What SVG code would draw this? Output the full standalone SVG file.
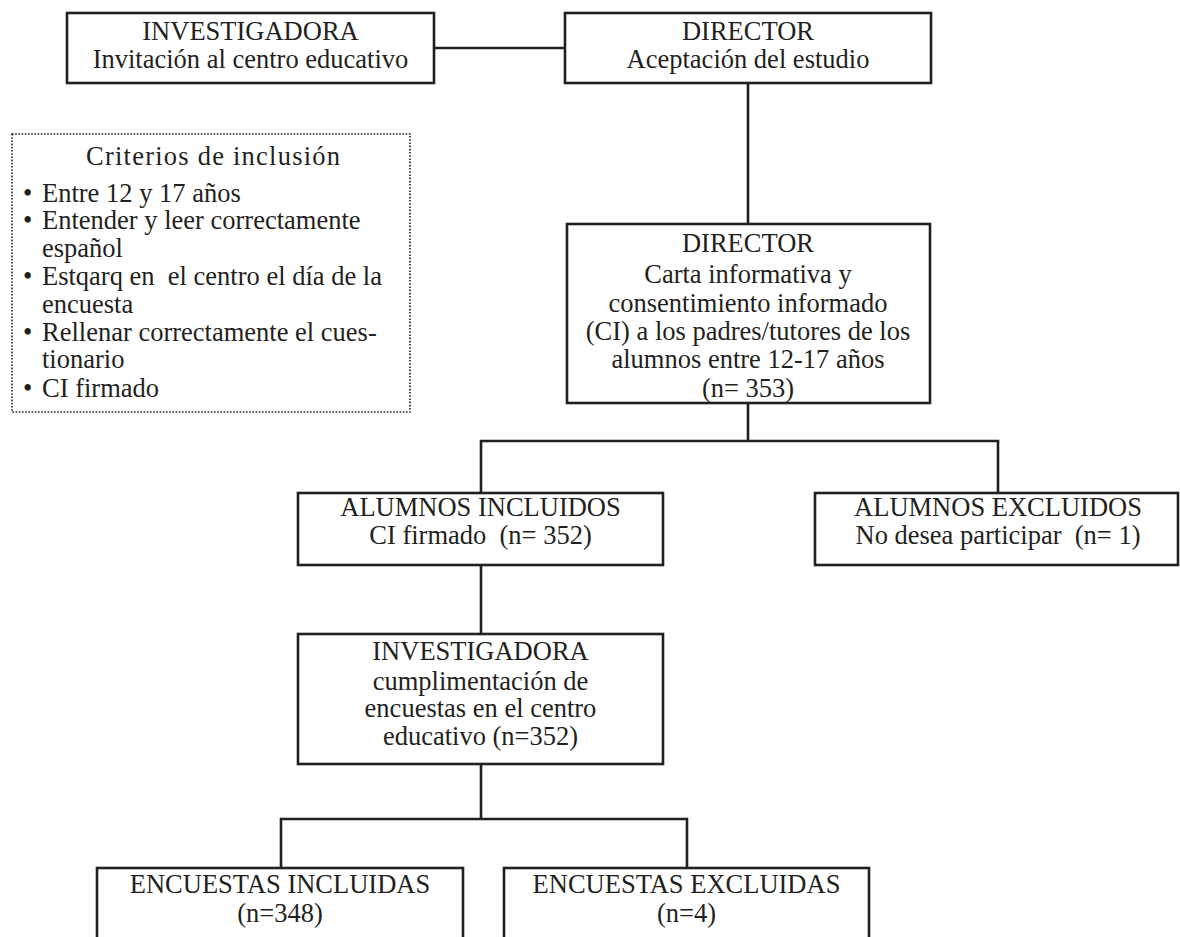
<svg xmlns="http://www.w3.org/2000/svg" width="1180" height="937" viewBox="0 0 1180 937">
<style>
.box{fill:#fff;stroke:#231f20;stroke-width:2.6}
.dot{fill:#fff;stroke:#231f20;stroke-width:1.6;stroke-dasharray:1.6 1.6}
.ln{fill:none;stroke:#231f20;stroke-width:2.6}
text{font-family:"Liberation Serif","Times New Roman",serif;font-size:26.5px;fill:#231f20}
.c{text-anchor:middle}
</style>
<rect width="1180" height="937" fill="#fff"/>
<g id="connectors">
<line class="ln" x1="434" y1="48" x2="565" y2="48"/>
<line class="ln" x1="748" y1="83" x2="748" y2="224"/>
<line class="ln" x1="748" y1="403" x2="748" y2="441"/>
<polyline class="ln" points="481,493 481,441 998,441 998,493"/>
<line class="ln" x1="481" y1="565" x2="481" y2="634"/>
<line class="ln" x1="481" y1="764" x2="481" y2="819"/>
<polyline class="ln" points="281,868 281,819 687,819 687,868"/>
</g>
<g id="n1">
<rect class="box" x="67" y="13" width="367" height="70"/>
<text class="c" x="250.5" y="40">INVESTIGADORA</text>
<text class="c" x="250.5" y="68">Invitación al centro educativo</text>
</g>
<g id="n2">
<rect class="box" x="565" y="13" width="366" height="70"/>
<text class="c" x="748" y="40">DIRECTOR</text>
<text class="c" x="748" y="68">Aceptación del estudio</text>
</g>
<g id="criterios">
<rect class="dot" x="12" y="134" width="398" height="278"/>
<text x="86" y="165" textLength="254">Criterios de inclusión</text>
<text x="23" y="202">•</text><text x="42" y="202">Entre 12 y 17 años</text>
<text x="23" y="229">•</text><text x="42" y="229">Entender y leer correctamente</text>
<text x="42" y="257">español</text>
<text x="23" y="285">•</text><text x="42" y="285" xml:space="preserve">Estqarq en  el centro el día de la</text>
<text x="42" y="313">encuesta</text>
<text x="23" y="341">•</text><text x="42" y="341">Rellenar correctamente el cues-</text>
<text x="42" y="368">tionario</text>
<text x="23" y="397">•</text><text x="42" y="397">CI firmado</text>
</g>
<g id="n3">
<rect class="box" x="567" y="224" width="363" height="179"/>
<text class="c" x="748" y="252">DIRECTOR</text>
<text class="c" x="748" y="283">Carta informativa y</text>
<text class="c" x="748" y="312">consentimiento informado</text>
<text class="c" x="748" y="340">(CI) a los padres/tutores de los</text>
<text class="c" x="748" y="368">alumnos entre 12-17 años</text>
<text class="c" x="748" y="397">(n= 353)</text>
</g>
<g id="n4">
<rect class="box" x="298" y="493" width="365" height="72"/>
<text class="c" x="480.5" y="516">ALUMNOS INCLUIDOS</text>
<text class="c" x="480.5" y="544" xml:space="preserve">CI firmado  (n= 352)</text>
</g>
<g id="n5">
<rect class="box" x="815" y="493" width="363" height="72"/>
<text class="c" x="998" y="516">ALUMNOS EXCLUIDOS</text>
<text class="c" x="998" y="544" xml:space="preserve">No desea participar  (n= 1)</text>
</g>
<g id="n6">
<rect class="box" x="298" y="634" width="365" height="130"/>
<text class="c" x="480.5" y="660">INVESTIGADORA</text>
<text class="c" x="480.5" y="690">cumplimentación de</text>
<text class="c" x="480.5" y="717">encuestas en el centro</text>
<text class="c" x="480.5" y="745">educativo (n=352)</text>
</g>
<g id="n7">
<rect class="box" x="97" y="868" width="366" height="90"/>
<text class="c" x="280" y="893">ENCUESTAS INCLUIDAS</text>
<text class="c" x="280" y="922">(n=348)</text>
</g>
<g id="n8">
<rect class="box" x="504" y="868" width="365" height="90"/>
<text class="c" x="686.5" y="893">ENCUESTAS EXCLUIDAS</text>
<text class="c" x="686.5" y="922">(n=4)</text>
</g>
</svg>
